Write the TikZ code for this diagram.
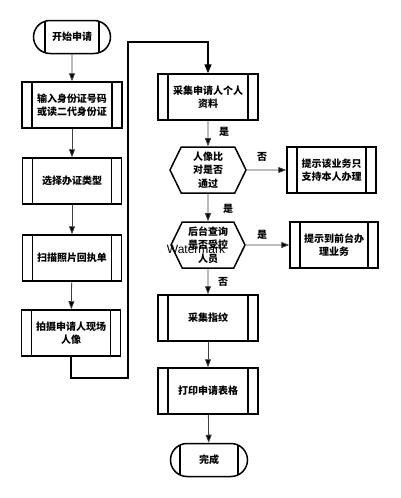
\documentclass[tikz,border=0pt]{standalone}
\usepackage{fontspec}
\newfontfamily\cjk{Noto Sans CJK SC}
\newfontfamily\wmfont{Liberation Sans}
\usetikzlibrary{arrows.meta,shapes.misc,shapes.symbols}
\begin{document}
\begin{tikzpicture}[x=1pt,y=-1pt,
  txt/.style={font=\cjk\bfseries\fontsize{10}{13.5}\selectfont},
  proc/.style={txt,draw,line width=1.5pt,minimum width=#1,minimum height=46pt,inner sep=0pt,align=center,
    path picture={
      \draw[line width=1.5pt] ([xshift=10pt]path picture bounding box.north west) -- ([xshift=10pt]path picture bounding box.south west);
      \draw[line width=1.5pt] ([xshift=-10pt]path picture bounding box.north east) -- ([xshift=-10pt]path picture bounding box.south east);}},
  proc/.default=100pt,
  term/.style={txt,draw,line width=1.5pt,rounded rectangle,minimum width=77pt,minimum height=33pt,inner sep=0pt,
    path picture={
      \draw[line width=1.5pt] ([xshift=-#1]path picture bounding box.north) -- ([xshift=-#1]path picture bounding box.south);
      \draw[line width=1.5pt] ([xshift=#1]path picture bounding box.north) -- ([xshift=#1]path picture bounding box.south);}},
  hexa/.style={txt,draw,line width=1.5pt,signal,signal to=east and west,signal pointer angle=128,
    minimum width=76pt,minimum height=46pt,inner sep=0pt,align=center},
  conn/.style={draw=black!75,line width=0.8pt,-{Triangle[length=8pt,width=6pt,fill=black]}},
  loopline/.style={draw=black,line width=1.5pt,-{Triangle[length=9pt,width=7pt]}},
  lbl/.style={txt}
]
\useasboundingbox (0,0) rectangle (400,498);
% left column
\node[term=27pt] (start) at (72,37) {开始申请};
\node[proc] (b1) at (72,105) {输入身份证号码\\或读二代身份证};
\node[proc=99pt] (b2) at (72,181) {选择办证类型};
\node[proc=99pt] (b3) at (72,258) {扫描照片回执单};
\node[proc=99pt] (b4) at (71,333) {拍摄申请人现场\\人像};
% right column
\node[proc] (r1) at (208,97) {采集申请人个人\\资料};
\node[hexa] (h1) at (208,170) {人像比\\对是否\\通过};
\node[proc=89pt] (t1) at (331.5,170) {提示该业务只\\支持本人办理};
\node[hexa,minimum width=74pt] (h2) at (208,245) {后台查询\\是否受控\\人员};
\node[proc=88pt] (t2) at (334,245) {提示到前台办\\理业务};
\node[proc] (r2) at (208,318) {采集指纹};
\node[proc] (r3) at (208,391) {打印申请表格};
\node[term=29pt] (end) at (209,460) {完成};
% connectors
\draw[conn] (start) -- (b1);
\draw[conn] (b1) -- (b2);
\draw[conn] (b2) -- (b3);
\draw[conn] (b3) -- (b4);
\coordinate (l2) at (128,378);
\coordinate (l3) at (128,42);
\draw[loopline] (b4.south) |- (l2) -- (l3) -| (r1.north);
\draw[conn] (r1) -- (h1);
\draw[conn] (h1) -- (t1);
\draw[conn] (h1) -- (h2);
\draw[conn] (h2) -- (t2);
\draw[conn] (h2) -- (r2);
\draw[conn] (r2) -- (r3);
\draw[conn] (r3) -- (end);
% labels
\node[lbl] (y1) at (224,132) {是};
\node[lbl] (n1) at (262,157) {否};
\node[lbl] (y2) at (228,209) {是};
\node[lbl] (y3) at (262,235) {是};
\node[lbl] (n2) at (223,282) {否};
% watermark
\node[font=\wmfont\fontsize{12}{12}\selectfont] (wm) at (196,249) {Watermark};
\end{tikzpicture}
\end{document}
